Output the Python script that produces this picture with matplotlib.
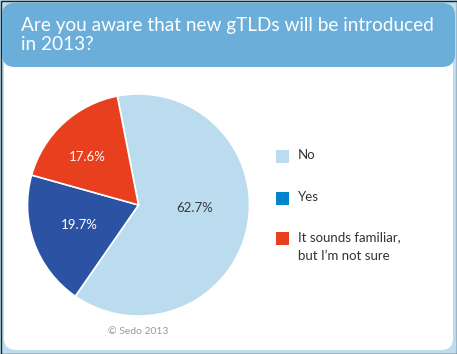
import matplotlib
matplotlib.use("Agg")
import matplotlib.pyplot as plt
from matplotlib.patches import FancyBboxPatch, Rectangle
import numpy as np

title = "Are you aware that new gTLDs will be introduced\nin 2013?"
categories = ["No", "Yes", "It sounds familiar,\nbut I\u2019m not sure"]
values = [62.7, 19.7, 17.6]
pie_colors = ["#BBDBEF", "#2B52A3", "#E8401F"]
legend_colors = ["#BBDBEF", "#0085CC", "#E8401F"]
label_colors = ["#3A3A3A", "white", "white"]
credit = "\u00a9 Sedo 2013"

plt.rcParams['font.family'] = ['Lato', 'DejaVu Sans']

W, H = 457, 354
fig = plt.figure(figsize=(W / 100, H / 100), dpi=100)
fig.patch.set_facecolor("#BCDCF0")

bg = fig.add_axes([0, 0, 1, 1])
bg.set_xlim(0, W)
bg.set_ylim(H, 0)
bg.axis("off")

# outer border
bg.add_patch(Rectangle((0.5, 0.5), W - 1, H - 1, fill=False, ec="#222222", lw=1))
# white panel
bg.add_patch(FancyBboxPatch((4, 4), W - 8, H - 8, boxstyle="round,pad=0,rounding_size=12",
                            fc="white", ec="none"))
# title band
bg.add_patch(FancyBboxPatch((2, 3), W - 4, 64, boxstyle="round,pad=0,rounding_size=13",
                            fc="#6BAED9", ec="none"))
bg.text(21, 35, title, color="white", fontsize=13.7, ha="left", va="center",
        linespacing=1.2)

# legend
leg_y = [156, 198, 238]
for c, lab, y in zip(legend_colors, categories, leg_y):
    bg.add_patch(Rectangle((276, y - 6.5), 13, 13, fc=c, ec="none"))
    bg.text(298, y - 7, lab, fontsize=9.5, color="#333333", ha="left", va="top",
            linespacing=1.7)

bg.text(138, 331, credit, fontsize=7.5, color="#999999", ha="center", va="center")

# pie
cx, cy, r = 138.5, 205, 111
pax = fig.add_axes([(cx - r) / W, (H - cy - r) / H, 2 * r / W, 2 * r / H])
wedges, texts = pax.pie(values, colors=pie_colors, startangle=101, counterclock=False,
                        wedgeprops=dict(edgecolor="white", linewidth=1.2))
pax.set_xlim(-1, 1)
pax.set_ylim(-1, 1)
pax.set_aspect("auto")
pax.axis("off")

# label placement (angle in degrees, radial distance)
label_pos = [(-3, 0.51), (199, 0.56), (136.5, 0.63)]
for v, col, (ang, d) in zip(values, label_colors, label_pos):
    a = np.deg2rad(ang)
    pax.text(d * np.cos(a), d * np.sin(a), f"{v:.1f}%", color=col,
             fontsize=9.5, ha="center", va="center")

fig.savefig("out.png", dpi=100, facecolor=fig.get_facecolor())
